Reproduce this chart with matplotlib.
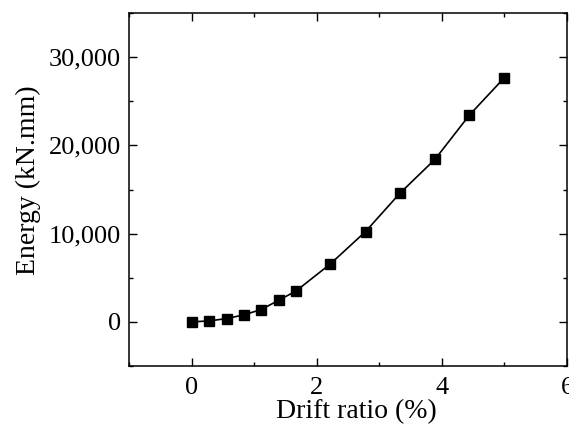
import matplotlib.pyplot as plt
from matplotlib.ticker import MultipleLocator, FuncFormatter

# cumulative dissipated energy vs drift ratio
drift = [0, 0.28, 0.56, 0.83, 1.11, 1.39, 1.67, 2.22, 2.78, 3.33, 3.89, 4.44, 5.0]
energy = [0, 110, 375, 790, 1390, 2440, 3500, 6580, 10230, 14580, 18420, 23430, 27680]

plt.rcParams['font.family'] = 'Liberation Serif'

fig = plt.figure(figsize=(5.69, 4.25), dpi=100)
ax = fig.add_axes([0.2267, 0.1388, 0.7698, 0.8306])

ax.plot(drift, energy, '-ks', linewidth=1.2, markersize=6.5)

ax.set_xlim(-1, 6)
ax.set_ylim(-5000, 35000)
ax.xaxis.set_major_locator(MultipleLocator(2))
ax.xaxis.set_minor_locator(MultipleLocator(1))
ax.yaxis.set_major_locator(MultipleLocator(10000))
ax.yaxis.set_minor_locator(MultipleLocator(5000))
ax.yaxis.set_major_formatter(FuncFormatter(lambda v, p: format(int(v), ',')))

ax.tick_params(which='both', direction='in', top=True, right=True, width=1)
ax.tick_params(which='major', length=6, labelsize=19)
ax.tick_params(which='minor', length=3)
ax.tick_params(axis='x', pad=8)
ax.tick_params(axis='y', pad=6)
for s in ax.spines.values():
    s.set_linewidth(1.1)

ax.set_xlabel("Drift ratio (%)", fontsize=20)
ax.xaxis.set_label_coords(0.52, -0.094)
ax.set_ylabel("Energy (kN.mm)", fontsize=20)
ax.yaxis.set_label_coords(-0.2, 0.527)

fig.savefig("out.png", dpi=100)
